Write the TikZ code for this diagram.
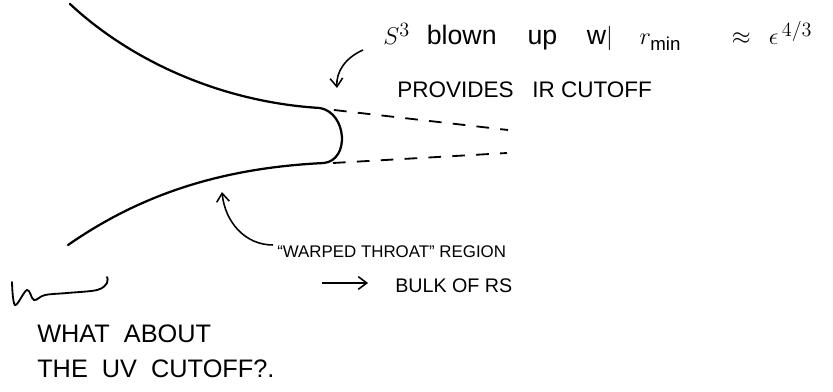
\documentclass[tikz,border=0pt]{standalone}
\usepackage{fontspec}
\setmainfont{Liberation Sans}
\usetikzlibrary{arrows.meta, positioning}

\begin{document}
\begin{tikzpicture}[x=0.025cm, y=-0.025cm,
    font=\fontsize{16}{19}\selectfont,
    note/.style={anchor=base west, inner sep=0pt},
    wall/.style={line width=1.6pt, line cap=round},
    ptr/.style={line width=1.1pt, -{Straight Barb[length=6pt, width=9pt]}}]
    \useasboundingbox (0,0) rectangle (833,392);

    % the throat
    \coordinate (topend) at (70,4);
    \coordinate (captop) at (320,108);
    \coordinate (capbot) at (324,163);
    \coordinate (botend) at (68,245);
    \draw[wall] (topend) .. controls (130,60) and (220,102) .. (captop)
        .. controls (347,113) and (350,160) .. (capbot)
        .. controls (220,168) and (140,195) .. (botend);
    \draw[line width=1.3pt, dash pattern=on 9pt off 8pt] (334,110) -- (508,130);
    \draw[line width=1.3pt, dash pattern=on 9pt off 8pt] (333,163) -- (507,153);

    % labels
    \node[note, font=\fontsize{19}{22}\selectfont] (s3note) at (383,45)
        {$S^3$\hspace{12pt}blown\hspace{22pt}up\hspace{21pt}w$|$\hspace{19pt}$r_{\min}$\hspace{36pt}$\approx$\hspace{13pt}$\epsilon^{\,4/3}$};
    \node[note] (cutoffnote) at (397,98) {PROVIDES\ \ \ IR CUTOFF};
    \node[note, font=\fontsize{12}{14}\selectfont] (throatnote) at (277,258) {``WARPED THROAT'' REGION};
    \node[note, font=\fontsize{14}{17}\selectfont] (bulknote) at (395,293) {BULK OF RS};
    \node[note, font=\fontsize{18}{21}\selectfont] (uvnote) at (37,342) {WHAT\ \ ABOUT};
    \node[note, font=\fontsize{18}{21}\selectfont] (uvnote2) at (37,377) {THE\ \ UV\ \ CUTOFF?.};

    % pointers
    \coordinate (s3from) at (363,50);
    \coordinate (captip) at (337,88);
    \draw[ptr] (s3from) .. controls (345,58) and (336,72) .. (captip);
    \coordinate (throatfrom) at (273,245);
    \coordinate (throattip) at (222,192);
    \draw[ptr] (throatfrom) .. controls (245,245) and (225,222) .. (throattip);
    \coordinate (bulkfrom) at (322,283);
    \coordinate (bulkto) at (368,283);
    \draw[ptr] (bulkfrom) -- (bulkto);

    % UV end squiggle
    \draw[line width=1.3pt, line cap=round] plot[smooth, tension=0.6] coordinates
        {(12,282) (15,305) (27,290) (34,300) (45,295) (67,293) (97,290) (107,283) (107,277)};
\end{tikzpicture}
\end{document}
